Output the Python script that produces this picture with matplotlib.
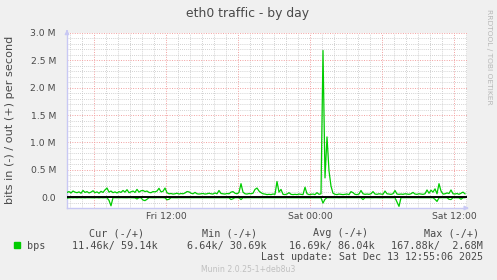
import numpy as np
import matplotlib
matplotlib.use("Agg")
import matplotlib.pyplot as plt
from matplotlib.patches import Rectangle

# samples every 10 min, starting Fri 03:45 (hours since Fri 00:00)
t_start = 3.75
step_h = 1.0 / 6

# out (+) traffic in kbit/s, one row per hour
out_k = [
    85, 100, 75, 110, 90, 80,
    95, 70, 120, 85, 100, 75,
    90, 115, 80, 95, 70, 105,
    85, 130, 165, 90, 110, 80,
    95, 75, 100, 85, 120, 90,
    135, 80, 95, 110, 85, 140,
    90, 115, 120, 100, 110, 85,
    80, 100, 95, 110, 160, 95,
    105, 165, 80, 60, 65, 55,
    60, 70, 55, 65, 60, 75,
    100, 95, 70, 60, 85, 60,
    55, 60, 65, 55, 60, 70,
    60, 55, 75, 60, 120, 65,
    60, 55, 65, 60, 90, 100,
    70, 60, 85, 245, 90, 60,
    55, 65, 60, 70, 140, 165,
    110, 80, 60, 55, 45, 50,
    45, 55, 50, 285, 90, 140,
    50, 45, 55, 80, 50, 45,
    50, 45, 55, 50, 45, 180,
    60, 45, 50, 55, 45, 80,
    50, 60, 2680, 350, 1100, 480,
    200, 70, 50, 45, 55, 50,
    45, 50, 55, 45, 100, 80,
    50, 45, 55, 120, 60, 50,
    55, 50, 60, 100, 55, 50,
    60, 55, 50, 110, 60, 55,
    50, 60, 120, 55, 50, 55,
    50, 60, 55, 50, 60, 85,
    55, 50, 60, 55, 50, 60,
    130, 70, 125, 90, 150, 60,
    245, 110, 55, 60, 75, 65,
    130, 60, 55, 65, 50, 70,
    90, 59,
]

# in (-) traffic in kbit/s, drawn below zero
in_k = [
    20, 15, 12, 14, 12, 15,
    12, 14, 12, 15, 12, 13,
    12, 14, 13, 12, 15, 12,
    14, 12, 13, 60, 160, 12,
    13, 12, 14, 12, 13, 12,
    14, 12, 13, 12, 15, 35,
    12, 14, 55, 65, 40, 12,
    13, 12, 14, 12, 13, 12,
    12, 15, 50, 40, 12, 13,
    12, 14, 12, 13, 12, 12,
    13, 12, 14, 12, 12, 13,
    12, 13, 12, 14, 12, 12,
    13, 12, 12, 14, 12, 13,
    12, 14, 12, 13, 45, 30,
    12, 13, 12, 45, 12, 14,
    12, 13, 12, 12, 14, 12,
    13, 12, 12, 13, 12, 14,
    12, 13, 12, 14, 12, 12,
    13, 12, 14, 12, 12, 13,
    12, 14, 12, 12, 13, 12,
    12, 13, 12, 14, 12, 13,
    12, 14, 110, 40, 12, 13,
    12, 13, 12, 12, 14, 12,
    13, 12, 12, 14, 12, 13,
    12, 13, 12, 12, 45, 12,
    13, 12, 14, 12, 12, 13,
    12, 14, 12, 12, 13, 12,
    13, 12, 12, 90, 170, 12,
    12, 13, 12, 14, 12, 12,
    13, 12, 14, 12, 12, 13,
    12, 14, 12, 13, 40, 80,
    14, 12, 13, 12, 12, 40,
    45, 12, 13, 12, 14, 40,
    12, 11,
]

ytick_vals = [0.0, 0.5, 1.0, 1.5, 2.0, 2.5, 3.0]
ytick_labels = ["0.0", "0.5 M", "1.0 M", "1.5 M", "2.0 M", "2.5 M", "3.0 M"]
xtick_vals = [12, 24, 36]
xtick_labels = ["Fri 12:00", "Sat 00:00", "Sat 12:00"]

legend_head = ["Cur (-/+)", "Min (-/+)", "Avg (-/+)", "Max (-/+)"]
legend_vals = ["11.46k/ 59.14k", "6.64k/ 30.69k", "16.69k/ 86.04k", "167.88k/  2.68M"]

W, H = 497, 280
BG = "#f0f0f0"
GREEN = "#00cc00"
TXT = "#4a4a4a"


def px(x, y):
    return x / W, 1 - y / H


t = t_start + np.arange(len(out_k)) * step_h
out_m = np.array(out_k) / 1000.0
in_m = -np.array(in_k) / 1000.0

fig = plt.figure(figsize=(W / 100, H / 100), dpi=100, facecolor=BG)
ax = fig.add_axes([67 / W, 1 - 208 / H, 400 / W, 175 / H])
ax.set_facecolor("white")

ax.set_xlim(t_start, t_start + 400 / 12)
ax.set_ylim(-0.2, 3.0)

# grid: hourly / 0.1M minor, 6h / 0.5M major
for h in np.arange(4, 38):
    if h % 6 == 0:
        ax.axvline(h, color="#f2a0a0", lw=0.7, ls=(0, (1, 1.5)), zorder=1)
    else:
        ax.axvline(h, color="#c4c4c4", lw=0.6, ls=(0, (1, 1.5)), zorder=0.5)
for v in np.arange(-0.2, 3.01, 0.1):
    v = round(v, 1)
    if abs(v * 2 - round(v * 2)) < 1e-6:
        ax.axhline(v, color="#f2a0a0", lw=0.7, ls=(0, (1, 1.5)), zorder=1)
    else:
        ax.axhline(v, color="#c4c4c4", lw=0.6, ls=(0, (1, 1.5)), zorder=0.5)

ax.plot(t, in_m, color=GREEN, lw=0.9, zorder=3)
ax.plot(t, out_m, color=GREEN, lw=0.9, zorder=3)
ax.axhline(0, color="black", lw=1.4, zorder=4)

ax.set_yticks(ytick_vals)
ax.set_yticklabels(ytick_labels)
ax.set_xticks(xtick_vals)
ax.set_xticklabels(xtick_labels)
ax.tick_params(length=0, labelsize=6.7, colors=TXT, pad=8)
ax.tick_params(axis="x", pad=3)

for s in ["top", "right"]:
    ax.spines[s].set_visible(False)
for s in ["left", "bottom"]:
    ax.spines[s].set_color("#c8c8f4")
    ax.spines[s].set_linewidth(1.0)
ax.annotate("", xy=(0, 1.035), xytext=(0, 0.99), xycoords="axes fraction",
            arrowprops=dict(arrowstyle="-|>", color="#c8c8f4", lw=1, mutation_scale=6))
ax.annotate("", xy=(1.012, 0), xytext=(0.99, 0), xycoords="axes fraction",
            arrowprops=dict(arrowstyle="-|>", color="#c8c8f4", lw=1, mutation_scale=6))

fig.text(*px(248, 14), "eth0 traffic - by day", ha="center", va="center",
         fontsize=8.9, color=TXT)
fig.text(*px(10.5, 119.5), "bits in (-) / out (+) per second", rotation=90,
         ha="center", va="center", fontsize=8.1, color=TXT)
fig.text(*px(489, 57), "RRDTOOL / TOBI OETIKER", rotation=270, ha="center",
         va="center", fontsize=5.4, color="#b8b8b8")

# legend block
mono = "DejaVu Sans Mono"
fig.patches.append(Rectangle(px(14, 248), 6 / W, 6 / H, transform=fig.transFigure,
                             color=GREEN))
fig.text(*px(27, 245.7), "bps", ha="left", va="center", fontsize=7.3,
         family=mono, color=TXT)
for x, s in zip([89.3, 201.7, 312.7, 424.3], legend_head):
    fig.text(*px(x, 233.3), s, ha="left", va="center", fontsize=7.3,
             family=mono, color=TXT)
for x, s in zip([157.7, 266.7, 375.0, 482.7], legend_vals):
    fig.text(*px(x, 245.7), s, ha="right", va="center", fontsize=7.3,
             family=mono, color=TXT)
fig.text(*px(482.7, 257.3), "Last update: Sat Dec 13 12:55:06 2025", ha="right",
         va="center", fontsize=7.2, family=mono, color=TXT)
fig.text(*px(248.5, 269), "Munin 2.0.25-1+deb8u3", ha="center", va="center",
         fontsize=5.6, color="#c0c0c0")

fig.savefig("out.png", dpi=100, facecolor=BG)
